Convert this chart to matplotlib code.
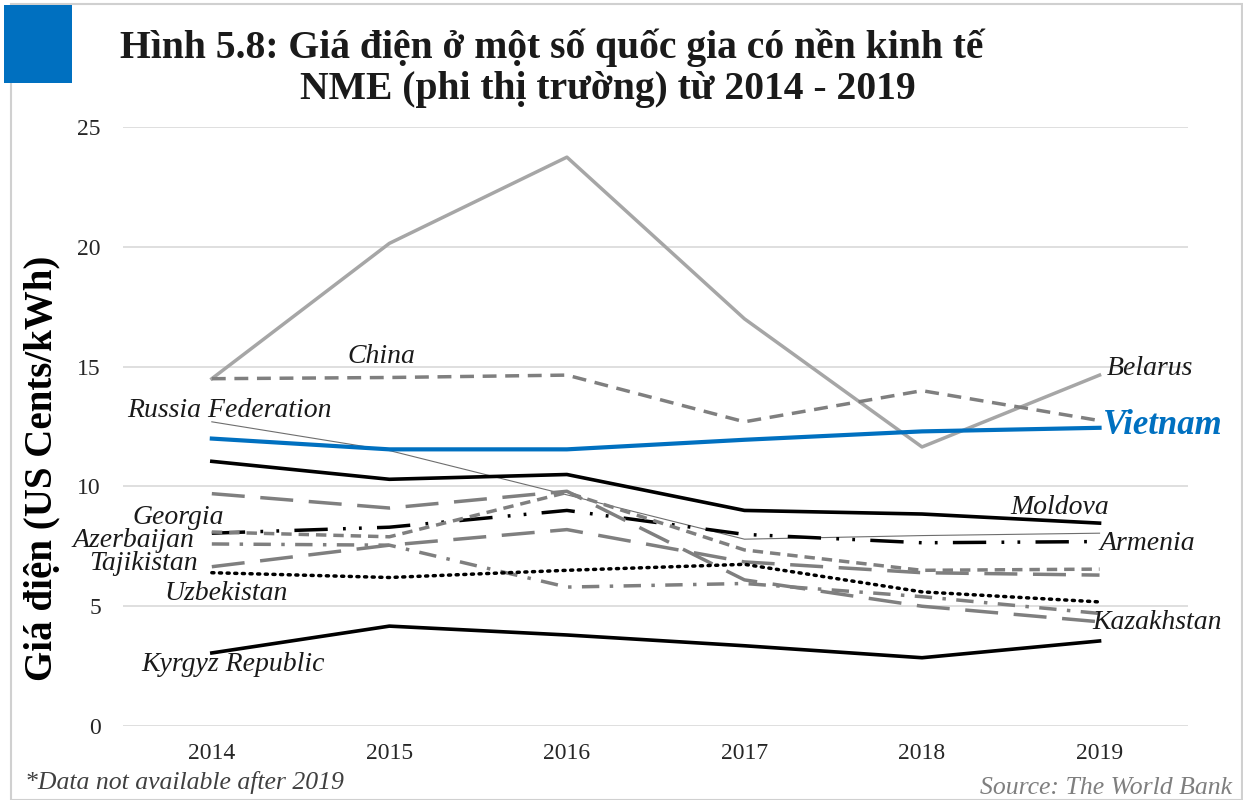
import matplotlib
matplotlib.use("Agg")
import matplotlib.pyplot as plt
from matplotlib.patches import Rectangle

# values (US cents / kWh)
years = [2014, 2015, 2016, 2017, 2018, 2019]
belarus = [14.5, 20.15, 23.75, 17.0, 11.65, 14.65]
china = [14.5, 14.55, 14.65, 12.7, 14.0, 12.75]
vietnam = [12.0, 11.55, 11.55, 11.95, 12.3, 12.45]
russia = [12.7, 11.5, 9.65, 7.8, 7.95, 8.05]
moldova = [11.05, 10.3, 10.5, 9.0, 8.85, 8.47]
armenia = [8.05, 8.3, 9.0, 8.0, 7.65, 7.7]
kazakhstan = [9.7, 9.1, 9.8, 6.1, 5.0, 4.35]
georgia = [8.1, 7.9, 9.75, 7.35, 6.5, 6.55]
azerbaijan = [7.6, 7.55, 5.8, 5.95, 5.4, 4.7]
tajikistan = [6.65, 7.55, 8.2, 6.85, 6.4, 6.3]
uzbekistan = [6.4, 6.2, 6.5, 6.75, 5.6, 5.18]
kyrgyz = [3.05, 4.17, 3.8, 3.35, 2.85, 3.55]

SERIF = "Liberation Serif"
GREY = "#7f7f7f"

fig = plt.figure(figsize=(12.43, 8), dpi=100)
ax = fig.add_axes([0.099, 0.0925, 0.857, 0.7485])

ax.plot(years, belarus, color="#a6a6a6", lw=2.5)
ax.plot(years, china, color=GREY, lw=2.5, dashes=(4, 2.5))
ax.plot(years, russia, color="#6e6e6e", lw=0.8)
ax.plot(years, moldova, color="black", lw=2.6)
ax.plot(years, armenia, color="black", lw=2.5,
        dashes=(9.6, 4.4, 0.8, 3.8, 0.8, 4.4))
ax.plot(years, kazakhstan, color=GREY, lw=2.5, dashes=(9.5, 4.5))
ax.plot(years, georgia, color=GREY, lw=2.5, dashes=(3, 2))
ax.plot(years, azerbaijan, color=GREY, lw=2.5, dashes=(5, 3, 1, 3))
ax.plot(years, tajikistan, color=GREY, lw=2.5, dashes=(9.5, 4.5))
ax.plot(years, uzbekistan, color="black", lw=2.5, dashes=(0.6, 1.6),
        dash_capstyle="round")
ax.plot(years, kyrgyz, color="black", lw=2.6)
ax.plot(years, vietnam, color="#0070c0", lw=3)

ax.set_xlim(2013.5, 2019.5)
ax.set_ylim(0, 25)
ax.set_yticks([0, 5, 10, 15, 20, 25])
ax.set_xticks(years)
ax.grid(axis="y", color="#d9d9d9", lw=1.2)
ax.set_axisbelow(True)
for s in ax.spines.values():
    s.set_visible(False)
ax.tick_params(length=0, labelsize=17, labelcolor="#262626", pad=12)
for lab in ax.get_xticklabels() + ax.get_yticklabels():
    lab.set_family(SERIF)
ax.tick_params(axis="y", pad=16)

ax.set_ylabel("Giá điện (US Cents/kWh)", family=SERIF, fontsize=28,
              fontweight="bold", labelpad=8)
ax.yaxis.set_label_coords(-0.059, 0.43)

# series labels
lab_kw = dict(family=SERIF, style="italic", fontsize=20, color="#1a1a1a",
              va="center", clip_on=False)
ax.text(2014.955, 15.44, "China", ha="center", **lab_kw)
ax.text(2019.04, 14.94, "Belarus", ha="left", **lab_kw)
ax.text(2014.1, 13.19, "Russia Federation", ha="center", **lab_kw)
ax.text(2018.5, 9.14, "Moldova", ha="left", **lab_kw)
ax.text(2019.0, 7.64, "Armenia", ha="left", **lab_kw)
ax.text(2018.96, 4.34, "Kazakhstan", ha="left", **lab_kw)
ax.text(2014.07, 8.72, "Georgia", ha="right", **lab_kw)
ax.text(2013.9, 7.76, "Azerbaijan", ha="right", **lab_kw)
ax.text(2013.92, 6.8, "Tajikistan", ha="right", **lab_kw)
ax.text(2014.43, 5.55, "Uzbekistan", ha="right", **lab_kw)
ax.text(2014.12, 2.55, "Kyrgyz Republic", ha="center", **lab_kw)
ax.text(2019.02, 12.56, "Vietnam", ha="left", va="center", family=SERIF,
        style="italic", fontweight="bold", fontsize=25, color="#0070c0",
        clip_on=False)

# frame and blue tab
fig.patches.append(Rectangle((0.009, 0.0), 0.99, 0.995, transform=fig.transFigure,
                             fill=False, edgecolor="#d0d0d0", lw=1.5))
fig.patches.append(Rectangle((0.003, 0.896), 0.055, 0.098, transform=fig.transFigure,
                             facecolor="#0070c0", edgecolor="none"))

# title
fig.text(120 / 1243, 1 - 48 / 800, "Hình 5.8: Giá điện ở một số quốc gia có nền kinh tế",
         family=SERIF, fontweight="bold", fontsize=28.5, va="center", ha="left",
         color="#1a1a1a")
fig.text(300 / 1243, 1 - 90 / 800, "NME (phi thị trường) từ 2014 - 2019",
         family=SERIF, fontweight="bold", fontsize=28.5, va="center", ha="left",
         color="#1a1a1a")

# footer
fig.text(25 / 1243, 1 - 783 / 800, "*Data not available after 2019", family=SERIF,
         style="italic", fontsize=18.5, color="#404040", va="center", ha="left")
fig.text(1232 / 1243, 1 - 788 / 800, "Source: The World Bank", family=SERIF,
         style="italic", fontsize=18.5, color="#7f7f7f", va="center", ha="right")

fig.savefig("out.png", dpi=100)
